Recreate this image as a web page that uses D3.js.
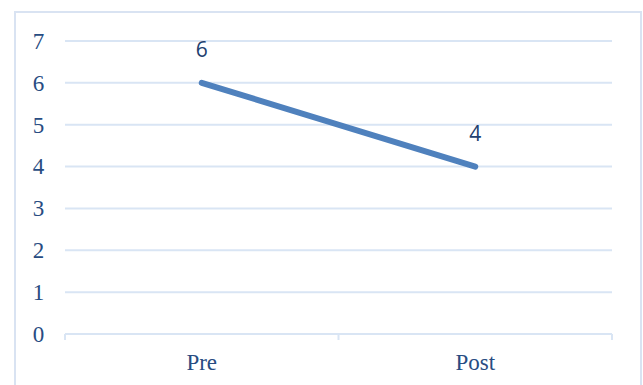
<!DOCTYPE html>
<html>
<head>
<meta charset="utf-8">
<script src="https://cdn.jsdelivr.net/npm/d3@7"></script>
<style>
  html, body { margin: 0; padding: 0; background: #fff; }
  svg { display: block; }
</style>
</head>
<body>
<svg id="chart" width="643" height="385"></svg>
<script>
// Category labels and the single series value for each
const categories = ["Pre", "Post"];
const values = [6, 4];
const yTicks = [0, 1, 2, 3, 4, 5, 6, 7];

const svg = d3.select("#chart");
const plot = { left: 65, right: 612, top: 41, bottom: 334 };
const textColor = "#284C82";
const gridColor = "#D9E5F4";

// Outer chart frame
svg.append("rect")
  .attr("x", 15).attr("y", 12)
  .attr("width", 626).attr("height", 390)
  .attr("fill", "#fff")
  .attr("stroke", "#D9E3F2")
  .attr("stroke-width", 2);

const x = d3.scaleBand().domain(categories).range([plot.left, plot.right]).padding(0);
const y = d3.scaleLinear().domain([0, 7]).range([plot.bottom, plot.top]);

// Horizontal gridlines
svg.append("g").selectAll("line")
  .data(yTicks.filter(d => d > 0))
  .join("line")
  .attr("x1", plot.left).attr("x2", plot.right)
  .attr("y1", d => y(d)).attr("y2", d => y(d))
  .attr("stroke", gridColor).attr("stroke-width", 2);

// Category axis with ticks at band boundaries
const xAxis = svg.append("g");
xAxis.append("line")
  .attr("x1", plot.left).attr("x2", plot.right)
  .attr("y1", y(0)).attr("y2", y(0))
  .attr("stroke", gridColor).attr("stroke-width", 2);
const bounds = categories.map(c => x(c)).concat([x(categories[categories.length - 1]) + x.bandwidth()]);
xAxis.selectAll("line.tick")
  .data(bounds)
  .join("line")
  .attr("class", "tick")
  .attr("x1", d => d).attr("x2", d => d)
  .attr("y1", y(0)).attr("y2", y(0) + 6)
  .attr("stroke", gridColor).attr("stroke-width", 2);
xAxis.selectAll("text")
  .data(categories)
  .join("text")
  .attr("x", d => x(d) + x.bandwidth() / 2)
  .attr("y", 370)
  .attr("text-anchor", "middle")
  .attr("font-family", "'Liberation Serif', 'Times New Roman', serif")
  .attr("font-size", 23)
  .attr("fill", textColor)
  .text(d => d);

// Value axis labels
svg.append("g").selectAll("text")
  .data(yTicks)
  .join("text")
  .attr("x", 38.5)
  .attr("y", d => y(d))
  .attr("dy", "0.34em")
  .attr("text-anchor", "middle")
  .attr("font-family", "'Liberation Serif', 'Times New Roman', serif")
  .attr("font-size", 23)
  .attr("fill", textColor)
  .text(d => d);

// Series line
const pts = categories.map((c, i) => ({ c, v: values[i] }));
svg.append("path")
  .datum(pts)
  .attr("fill", "none")
  .attr("stroke", "#4F81BD")
  .attr("stroke-width", 6)
  .attr("stroke-linecap", "round")
  .attr("stroke-linejoin", "round")
  .attr("d", d3.line().x(d => x(d.c) + x.bandwidth() / 2).y(d => y(d.v)));

// Data labels above points
svg.append("g").selectAll("text")
  .data(pts)
  .join("text")
  .attr("x", d => x(d.c) + x.bandwidth() / 2)
  .attr("y", d => y(d.v) - 26)
  .attr("text-anchor", "middle")
  .attr("font-family", "'Open Sans', 'Liberation Sans', sans-serif")
  .attr("font-size", 21)
  .attr("fill", "#22406E")
  .text(d => d.v);
</script>
</body>
</html>
